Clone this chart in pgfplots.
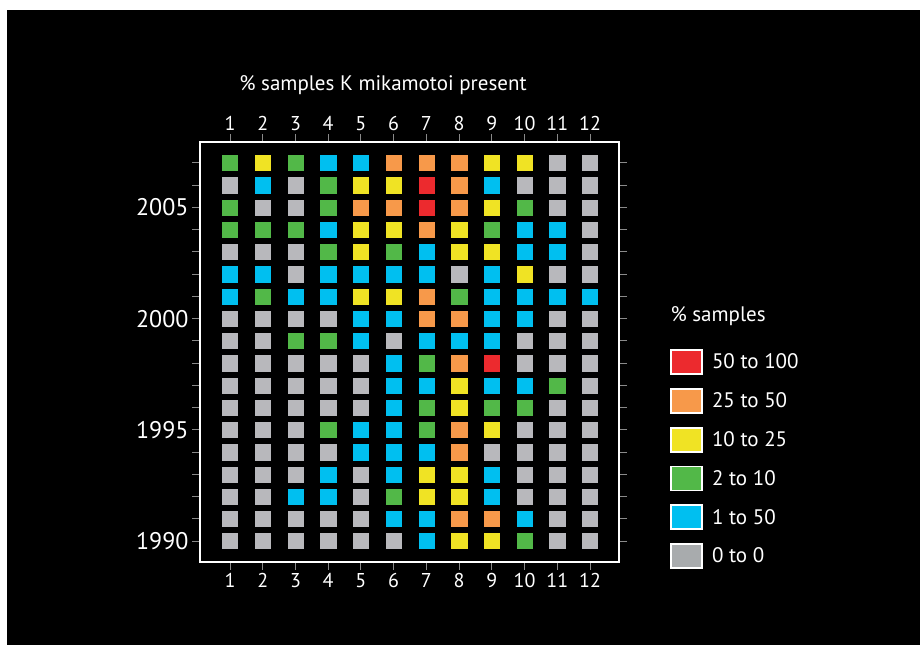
\documentclass[border=0pt]{standalone}
\usepackage{pgfplots}
\pgfplotsset{compat=1.18}
\usepackage{fontspec}
\setmainfont{PT Sans}
\definecolor{cR}{HTML}{EC2A2E}
\definecolor{cO}{HTML}{F7994A}
\definecolor{cY}{HTML}{F0E324}
\definecolor{cG}{HTML}{52B848}
\definecolor{cB}{HTML}{00BFF0}
\definecolor{cS}{HTML}{B8B8BC}
\definecolor{cSL}{HTML}{A8ABAD}
\definecolor{tk}{HTML}{8A8A8A}
\pgfplotsset{
  legsq/.style={legend image code/.code={\filldraw[draw=white,line width=1.8pt,fill=#1] (0pt,-12pt) rectangle (31pt,12pt);}},
  frame/.style={
    scale only axis, width=419pt, height=420pt,
    at={(200pt,83pt)}, anchor=south west,
    xmin=0.083, xmax=12.886, ymin=1989.06, ymax=2007.94,
    axis line style={white, line width=2.4pt},
    tick align=outside,
    major tick length=8pt, minor tick length=8pt,
    every tick/.style={tk, line width=1pt},
    every minor tick/.style={tk, line width=1pt},
    /pgf/number format/assume math mode=true,
    /pgf/number format/1000 sep={},
  }
}
\begin{document}
\begin{tikzpicture}
\path[use as bounding box] (0pt,0pt) rectangle (920pt,645pt);
\fill[white] (0pt,0pt) rectangle (920pt,645pt);
\fill[black] (7pt,0pt) rectangle (920pt,635pt);
\begin{axis}[frame,
  xtick={1,...,12},
  ytick={1990,1995,2000,2005},
  minor ytick={1991,1992,1993,1994,1996,1997,1998,1999,2001,2002,2003,2004,2006,2007},
  xticklabel pos=left,
  xticklabel style={text=white, font=\fontsize{20}{24}\selectfont},
  yticklabel style={text=white, font=\fontsize{24}{28}\selectfont},
  legend style={at={(1.1217,0.507)}, anchor=north west, draw=none, fill=none,
    text=white, font=\fontsize{21}{25}\selectfont, inner sep=0pt, row sep=13pt,
    /tikz/every odd column/.append style={column sep=7pt}},
  legend cell align=left,
]
\addplot[only marks, mark=square*, mark size=7.6pt, color=cR, legsq=cR] coordinates {
(7,2006) (7,2005) (9,1998)};
\addlegendentry{50 to 100}
\addplot[only marks, mark=square*, mark size=7.6pt, color=cO, legsq=cO] coordinates {
(6,2007) (7,2007) (8,2007) (8,2006) (5,2005) (6,2005) (8,2005) (7,2004)
(7,2001) (7,2000) (8,2000) (8,1998) (8,1995) (8,1994) (8,1991) (9,1991)};
\addlegendentry{25 to 50}
\addplot[only marks, mark=square*, mark size=7.6pt, color=cY, legsq=cY] coordinates {
(2,2007) (9,2007) (10,2007) (5,2006) (6,2006) (9,2005) (5,2004) (6,2004) (8,2004)
(5,2003) (8,2003) (9,2003) (10,2002) (5,2001) (6,2001) (8,1997) (8,1996) (9,1995)
(7,1993) (8,1993) (7,1992) (8,1992) (8,1990) (9,1990)};
\addlegendentry{10 to 25}
\addplot[only marks, mark=square*, mark size=7.6pt, color=cG, legsq=cG] coordinates {
(1,2007) (3,2007) (4,2006) (1,2005) (4,2005) (10,2005) (1,2004) (2,2004) (3,2004) (9,2004)
(4,2003) (6,2003) (2,2001) (8,2001) (3,1999) (4,1999) (7,1998) (11,1997)
(7,1996) (9,1996) (10,1996) (4,1995) (7,1995) (6,1992) (10,1990)};
\addlegendentry{2 to 10}
\addplot[only marks, mark=square*, mark size=7.6pt, color=cB, legsq=cB] coordinates {
(4,2007) (5,2007) (2,2006) (9,2006) (4,2004) (10,2004) (11,2004) (7,2003) (10,2003) (11,2003)
(1,2002) (2,2002) (4,2002) (5,2002) (6,2002) (7,2002) (9,2002)
(1,2001) (3,2001) (4,2001) (9,2001) (10,2001) (11,2001) (12,2001)
(5,2000) (6,2000) (9,2000) (10,2000) (5,1999) (7,1999) (8,1999) (9,1999)
(6,1998) (6,1997) (7,1997) (9,1997) (10,1997) (6,1996) (5,1995) (6,1995)
(5,1994) (6,1994) (7,1994) (4,1993) (6,1993) (9,1993) (3,1992) (4,1992) (9,1992)
(6,1991) (7,1991) (10,1991) (7,1990)};
\addlegendentry{1 to 50}
\addplot[only marks, mark=square*, mark size=7.6pt, color=cS, legsq=cSL] coordinates {
(11,2007) (12,2007)
(1,2006) (3,2006) (10,2006) (11,2006) (12,2006)
(2,2005) (3,2005) (11,2005) (12,2005)
(12,2004)
(1,2003) (2,2003) (3,2003) (12,2003)
(3,2002) (8,2002) (11,2002) (12,2002)
(1,2000) (2,2000) (3,2000) (4,2000) (11,2000) (12,2000)
(1,1999) (2,1999) (6,1999) (10,1999) (11,1999) (12,1999)
(1,1998) (2,1998) (3,1998) (4,1998) (5,1998) (10,1998) (11,1998) (12,1998)
(1,1997) (2,1997) (3,1997) (4,1997) (5,1997) (12,1997)
(1,1996) (2,1996) (3,1996) (4,1996) (5,1996) (11,1996) (12,1996)
(1,1995) (2,1995) (3,1995) (10,1995) (11,1995) (12,1995)
(1,1994) (2,1994) (3,1994) (4,1994) (9,1994) (10,1994) (11,1994) (12,1994)
(1,1993) (2,1993) (3,1993) (5,1993) (10,1993) (11,1993) (12,1993)
(1,1992) (2,1992) (5,1992) (10,1992) (11,1992) (12,1992)
(1,1991) (2,1991) (3,1991) (4,1991) (5,1991) (11,1991) (12,1991)
(1,1990) (2,1990) (3,1990) (4,1990) (5,1990) (6,1990) (11,1990) (12,1990)};
\addlegendentry{0 to 0}
\end{axis}
\begin{axis}[frame,
  xtick={1,...,12},
  ytick=\empty,
  xticklabel pos=right,
  xticklabel style={text=white, font=\fontsize{20}{24}\selectfont},
]
\end{axis}
\node[text=white, font=\fontsize{21}{25}\selectfont] at (383pt,560pt) {\% samples K mikamotoi present};
\node[anchor=west, text=white, font=\fontsize{21}{25}\selectfont] at (667pt,329pt) {\% samples};
\end{tikzpicture}
\end{document}
